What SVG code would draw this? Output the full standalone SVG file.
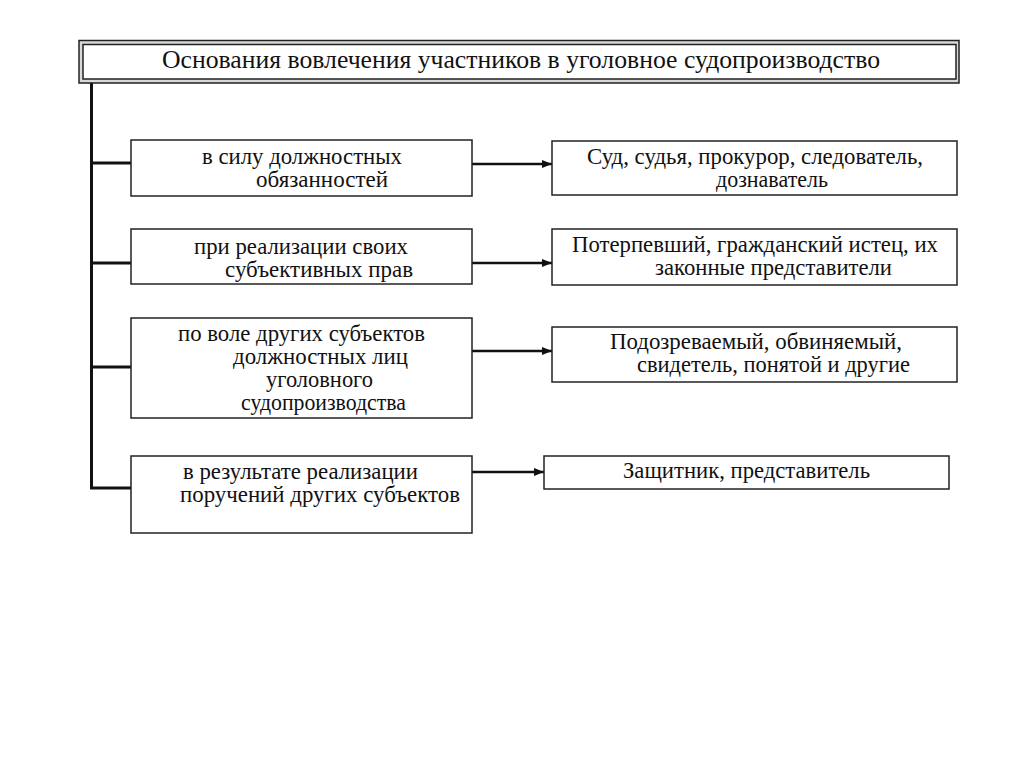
<svg xmlns="http://www.w3.org/2000/svg" width="1024" height="767" viewBox="0 0 1024 767">
<style>
text{font-family:"Liberation Serif","Times New Roman",serif;font-size:22.8px;fill:#111}
.title{font-size:25.6px}
.box{fill:#fff;stroke:#222;stroke-width:1.5}
.conn{stroke:#111;stroke-width:3;fill:none}
.arr{stroke:#111;stroke-width:2.5;fill:none}
</style>
<defs>
<marker id="ah" markerWidth="10" markerHeight="8" refX="10" refY="4" orient="auto" markerUnits="userSpaceOnUse">
<path d="M0,0 L10,4 L0,8 Z" fill="#111"/>
</marker>
</defs>
<rect width="1024" height="767" fill="#fff"/>
<g id="title">
<rect x="79" y="40.5" width="880" height="42.5" fill="#d8d8d8" stroke="#222" stroke-width="1.5"/>
<rect x="83" y="44.5" width="873" height="34.5" fill="#fff" stroke="#222" stroke-width="1.5"/>
<text class="title" x="162" y="68" textLength="718" lengthAdjust="spacingAndGlyphs">Основания вовлечения участников в уголовное судопроизводство</text>
</g>
<g id="connectors">
<path class="conn" d="M91.5,83 V488 H131"/>
<path class="conn" d="M91.5,163 H131"/>
<path class="conn" d="M91.5,263 H131"/>
<path class="conn" d="M91.5,367 H131"/>
<path class="arr" d="M472,164 H552" marker-end="url(#ah)"/>
<path class="arr" d="M472,263 H552" marker-end="url(#ah)"/>
<path class="arr" d="M472,351 H552" marker-end="url(#ah)"/>
<path class="arr" d="M472,472 H544" marker-end="url(#ah)"/>
</g>
<g id="l1">
<rect class="box" x="131" y="140" width="341" height="56"/>
<text x="202" y="164" textLength="200" lengthAdjust="spacingAndGlyphs">в силу должностных</text>
<text x="256" y="187" textLength="132" lengthAdjust="spacingAndGlyphs">обязанностей</text>
</g>
<g id="l2">
<rect class="box" x="131" y="229" width="341" height="55"/>
<text x="194" y="254" textLength="214" lengthAdjust="spacingAndGlyphs">при реализации своих</text>
<text x="225" y="277" textLength="188" lengthAdjust="spacingAndGlyphs">субъективных прав</text>
</g>
<g id="l3">
<rect class="box" x="131" y="318" width="341" height="100"/>
<text x="178" y="341" textLength="247" lengthAdjust="spacingAndGlyphs">по воле других субъектов</text>
<text x="233" y="364" textLength="175" lengthAdjust="spacingAndGlyphs">должностных лиц</text>
<text x="266" y="387" textLength="107" lengthAdjust="spacingAndGlyphs">уголовного</text>
<text x="241" y="410" textLength="165" lengthAdjust="spacingAndGlyphs">судопроизводства</text>
</g>
<g id="l4">
<rect class="box" x="131" y="456" width="341" height="77"/>
<text x="183" y="479" textLength="235" lengthAdjust="spacingAndGlyphs">в результате реализации</text>
<text x="180" y="502" textLength="280" lengthAdjust="spacingAndGlyphs">поручений других субъектов</text>
</g>
<g id="r1">
<rect class="box" x="552" y="141" width="405" height="54"/>
<text x="587" y="164" textLength="336" lengthAdjust="spacingAndGlyphs">Суд, судья, прокурор, следователь,</text>
<text x="716" y="187" textLength="112" lengthAdjust="spacingAndGlyphs">дознаватель</text>
</g>
<g id="r2">
<rect class="box" x="552" y="229" width="405" height="56"/>
<text x="572" y="252" textLength="366" lengthAdjust="spacingAndGlyphs">Потерпевший, гражданский истец, их</text>
<text x="655" y="275" textLength="237" lengthAdjust="spacingAndGlyphs">законные представители</text>
</g>
<g id="r3">
<rect class="box" x="552" y="327" width="405" height="55"/>
<text x="610" y="349" textLength="292" lengthAdjust="spacingAndGlyphs">Подозреваемый, обвиняемый,</text>
<text x="637" y="372" textLength="273" lengthAdjust="spacingAndGlyphs">свидетель, понятой и другие</text>
</g>
<g id="r4">
<rect class="box" x="544" y="456" width="405" height="33"/>
<text x="623" y="478" textLength="247" lengthAdjust="spacingAndGlyphs">Защитник, представитель</text>
</g>
</svg>
